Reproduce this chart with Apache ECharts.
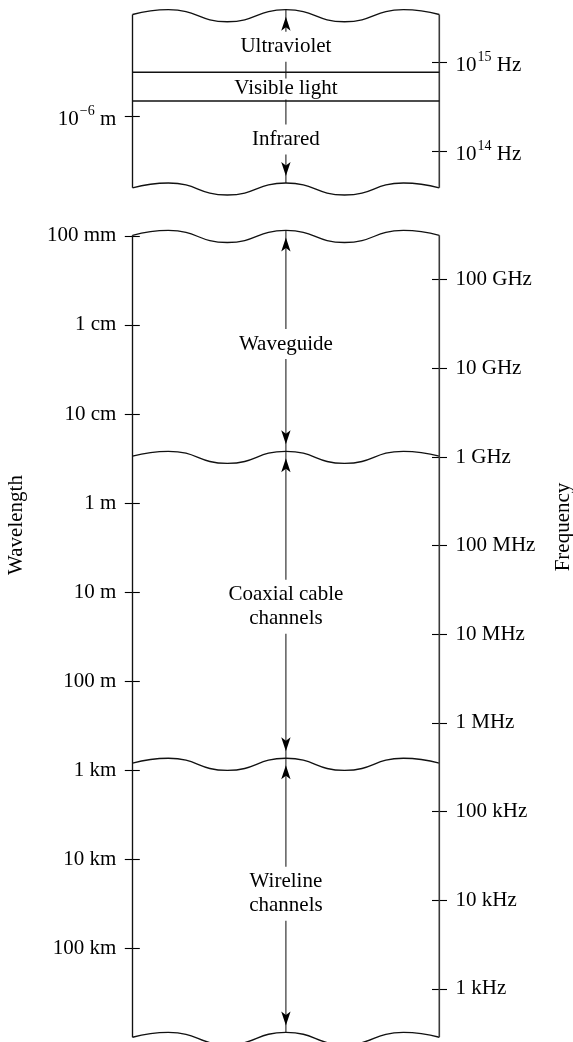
<!DOCTYPE html>
<html><head><meta charset="utf-8">
<script src="https://cdn.jsdelivr.net/npm/echarts@6/dist/echarts.min.js"></script>
<style>html,body{margin:0;padding:0;background:#fff}#c{width:573px;height:1042px}</style>
</head><body><div id="c"></div>
<script>
// ---------------- DATA ----------------
// Left axes: log10(wavelength / m). Right axes: log10(frequency / Hz).
const opticalWlTicks = [-6];
const opticalWlLabels = ['10^−6 m'];
const opticalFreqTicks = [15, 14];
const opticalFreqLabels = ['10^15 Hz', '10^14 Hz'];
const opticalBands = ['Ultraviolet', 'Visible light', 'Infrared'];
const opticalBandCenters = [-6.781, -6.305, -5.735];
const opticalBreaks = [-7.131, -5.177];      // wavy breaks (top, bottom)
const opticalDividers = [-6.493, -6.169];    // UV|visible, visible|IR

const guidedWlTicks = [-3, -2, -1, 0, 1, 2, 3, 4, 5];
const guidedWlLabels = ['100 mm', '1 cm', '10 cm', '1 m', '10 m', '100 m', '1 km', '10 km', '100 km'];
const guidedFreqTicks = [11, 10, 9, 8, 7, 6, 5, 4, 3];
const guidedFreqLabels = ['100 GHz', '10 GHz', '1 GHz', '100 MHz', '10 MHz', '1 MHz', '100 kHz', '10 kHz', '1 kHz'];
const guidedBands = ['Waveguide', 'Coaxial cable\nchannels', 'Wireline\nchannels'];
const guidedBandCenters = [-1.786, 1.164, 4.388];
const guidedBreaks = [-2.994, -0.513, 2.935, 6.014];

// wavy break outline: x across the panel (0..100), y in wave amplitudes (negative = up)
const breakX = [0, 11.7, 30.9, 50, 69.1, 88.3, 100];
const breakShape = [-0.2, -1, 1, -1, 1, -1, -0.2];
const breakAmp = 0.068; // decades

// --------------- STYLE / BUILD ---------------
const FONT = 'Liberation Serif';
const INK = '#000';
const lineW = 1.35;

function richLabel(s) {
  const m = s.match(/^(\d+)\^(\S+)(.*)$/);
  if (!m) return '{p|' + s + '}';
  return '{n|' + m[1] + '}{s|' + m[2] + '}{n|' + m[3] + '}';
}
const rich = {
  p: {fontFamily: FONT, fontSize: 21, color: INK, lineHeight: 22},
  n: {fontFamily: FONT, fontSize: 21, color: INK, lineHeight: 22, padding: [7, 0, 0, 0]},
  s: {fontFamily: FONT, fontSize: 14, color: INK, lineHeight: 20, padding: [0, 0, 9, 1]}
};

function yAx(gridIndex, pos, min, max, inverse, ticks, labels) {
  return {
    type: 'value', gridIndex, position: pos, min, max, inverse,
    offset: -7.3,
    splitLine: {show: false},
    axisLine: {show: false},
    axisTick: {show: true, length: 15, customValues: ticks, lineStyle: {color: INK, width: 1.1}},
    axisLabel: {
      show: true, customValues: ticks, margin: 23.5, rich, color: INK,
      formatter: v => { const i = ticks.findIndex(t => Math.abs(t - v) < 1e-6); return i < 0 ? '' : richLabel(labels[i]); }
    }
  };
}

function waveData(b) { return breakX.map((x, i) => [x, b + breakShape[i] * breakAmp]); }
function lineSeries(xi, yi, data, opts) {
  return Object.assign({
    type: 'line', xAxisIndex: xi, yAxisIndex: yi, data, symbol: 'none',
    lineStyle: {color: '#111', width: lineW}, silent: true, animation: false, z: 3
  }, opts || {});
}

function panelSeries(xi, yi, breaks, names, centers, dividers) {
  const s = [];
  breaks.forEach(b => s.push(lineSeries(xi, yi, waveData(b), {smooth: 0.5})));
  const first = breaks[0], last = breaks[breaks.length - 1];
  const n = breakShape.length - 1;
  s.push(lineSeries(xi, yi, [[breakX[0], first + breakShape[0] * breakAmp], [breakX[0], last + breakShape[0] * breakAmp]]));
  s.push(lineSeries(xi, yi, [[breakX[n], first + breakShape[n] * breakAmp], [breakX[n], last + breakShape[n] * breakAmp]],
    {lineStyle: {color: '#3a3a3a', width: 1.6}}));
  (dividers || []).forEach(d => s.push(lineSeries(xi, yi, [[breakX[0], d], [breakX[n], d]])));
  // double-headed arrows between consecutive breaks (tips at the crest in the middle)
  const mid = breakX[3], crest = breakShape[3] * breakAmp;
  for (let i = 0; i + 1 < breaks.length; i++) {
    s.push(lineSeries(xi, yi, [
      {value: [mid, breaks[i] + crest], symbol: 'arrow', symbolSize: [7, 14], symbolOffset: [0, '50%']},
      {value: [mid, breaks[i + 1] + crest], symbol: 'arrow', symbolSize: [7, 14], symbolRotate: 180, symbolOffset: [0, '-50%']}
    ], {showSymbol: true, itemStyle: {color: '#000', opacity: 1}, lineStyle: {color: '#222', width: 1.1}, z: 2}));
  }
  s.push({
    type: 'scatter', xAxisIndex: xi, yAxisIndex: yi, symbolSize: 0, silent: true, animation: false, z: 6,
    itemStyle: {color: '#fff', opacity: 1},
    data: names.map((nm, i) => {
      const tight = dividers && i === 1;
      return {name: nm, value: [mid, centers[i]],
        label: tight ? {padding: [0, 4], lineHeight: 21} : undefined};
    }),
    label: {
      show: true, position: 'inside', formatter: p => p.name, color: INK, opacity: 1,
      textBorderWidth: 0, textShadowBlur: 0,
      fontFamily: FONT, fontSize: 21, lineHeight: 24, backgroundColor: '#fff', padding: [3, 4]
    }
  });
  return s;
}

const gridL = 132.5, gridR = 573 - 439.3;
const option = {
  backgroundColor: '#fff',
  animation: false,
  grid: [
    {left: gridL, right: gridR, top: 0, height: 210},
    {left: gridL, right: gridR, top: 218.15, bottom: 0}
  ],
  xAxis: [
    {type: 'value', gridIndex: 0, min: 0, max: 100, show: false},
    {type: 'value', gridIndex: 1, min: 0, max: 100, show: false}
  ],
  yAxis: [
    yAx(0, 'left', -7.3078, -4.9402, true, opticalWlTicks, opticalWlLabels),
    yAx(0, 'right', 13.3348, 15.7024, false, opticalFreqTicks, opticalFreqLabels),
    yAx(1, 'left', -3.2, 6.054, true, guidedWlTicks, guidedWlLabels),
    yAx(1, 'right', 2.4001, 11.6945, false, guidedFreqTicks, guidedFreqLabels)
  ],
  series: [].concat(
    panelSeries(0, 0, opticalBreaks, opticalBands, opticalBandCenters, opticalDividers),
    panelSeries(1, 2, guidedBreaks, guidedBands, guidedBandCenters, null)
  ),
  graphic: [
    {type: 'text', x: 16, y: 525, rotation: Math.PI / 2,
     style: {text: 'Wavelength', fontFamily: FONT, fontSize: 21, fill: INK, align: 'center', verticalAlign: 'middle'}},
    {type: 'text', x: 563, y: 527, rotation: Math.PI / 2,
     style: {text: 'Frequency', fontFamily: FONT, fontSize: 21, fill: INK, align: 'center', verticalAlign: 'middle'}}
  ]
};
const chart = echarts.init(document.getElementById('c'), null, {renderer: 'canvas'});
chart.setOption(option);
</script></body></html>
